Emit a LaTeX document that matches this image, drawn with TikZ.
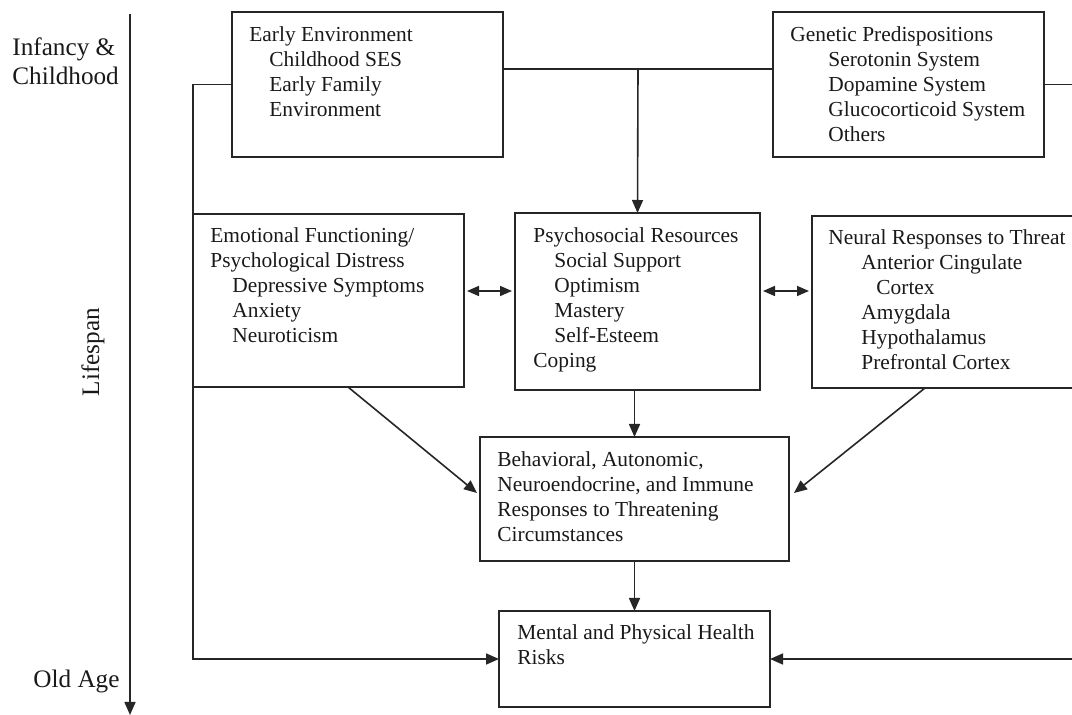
\documentclass[tikz,border=0pt]{standalone}
\usepackage{fontspec}
\setmainfont{Liberation Serif}
\usetikzlibrary{arrows.meta,calc}
\newcommand{\ind}[1]{\hspace*{#1}}
\begin{document}
\begin{tikzpicture}[x=0.5pt,y=-0.5pt,
  box/.style={draw=black!85, line width=0.95pt, inner sep=0pt, outer sep=0pt, anchor=north west},
  txt/.style={inner sep=0pt, anchor=base west, font=\fontsize{10.7}{12.5}\selectfont, text=black!90},
  lab/.style={inner sep=0pt, font=\fontsize{12.6}{14.5}\selectfont, text=black!90},
  conn/.style={draw=black!85, line width=0.8pt},
  arr/.style={conn, -{Triangle[length=6.5pt,width=5.5pt]}},
  darr/.style={conn, {Triangle[length=6pt,width=5pt]}-{Triangle[length=6pt,width=5pt]}}]
\useasboundingbox (0,0) rectangle (1072,715);
\clip (0,0) rectangle (1072,715);

% boxes
\node[box, minimum width=135.5pt, minimum height=72.5pt] (ee) at (232,12) {};
\node[box, minimum width=135.5pt, minimum height=72.5pt] (gen) at (773,12) {};
\node[box, minimum width=135.5pt, minimum height=86.5pt] (emo) at (193,214) {};
\node[box, minimum width=122.5pt, minimum height=88.5pt] (psy) at (515,213) {};
\node[box, minimum width=140pt, minimum height=86pt] (neu) at (812,216) {};
\node[box, minimum width=154.5pt, minimum height=62pt] (beh) at (480,437) {};
\node[box, minimum width=135.5pt, minimum height=48pt] (men) at (499,611) {};

% texts
\node[txt] (eet) at (249,42) {\parbox[t]{140pt}{Early Environment\\\ind{10pt}Childhood SES\\\ind{10pt}Early Family\\\ind{10pt}Environment}};
\node[txt] (gent) at (790,42) {\parbox[t]{140pt}{Genetic Predispositions\\\ind{19pt}Serotonin System\\\ind{19pt}Dopamine System\\\ind{19pt}Glucocorticoid System\\\ind{19pt}Others}};
\node[txt] (emot) at (210,243) {\parbox[t]{140pt}{Emotional Functioning/\\Psychological Distress\\\ind{11pt}Depressive Symptoms\\\ind{11pt}Anxiety\\\ind{11pt}Neuroticism}};
\node[txt] (psyt) at (533,243) {\parbox[t]{140pt}{Psychosocial Resources\\\ind{10.5pt}Social Support\\\ind{10.5pt}Optimism\\\ind{10.5pt}Mastery\\\ind{10.5pt}Self-Esteem\\Coping}};
\node[txt] (neut) at (828,245) {\parbox[t]{140pt}{Neural Responses to Threat\\\ind{16.5pt}Anterior Cingulate\\\ind{24pt}Cortex\\\ind{16.5pt}Amygdala\\\ind{16.5pt}Hypothalamus\\\ind{16.5pt}Prefrontal Cortex}};
\node[txt] (beht) at (497,467) {\parbox[t]{160pt}{Behavioral, Autonomic,\\Neuroendocrine, and Immune\\Responses to Threatening\\Circumstances}};
\node[txt] (ment) at (517,640) {\parbox[t]{140pt}{Mental and Physical Health\\Risks}};

% side labels
\node[lab, anchor=base west] (inf) at (12,56) {\parbox[t]{80pt}{Infancy \&\\Childhood}};
\node[lab, rotate=90, anchor=base] (ls) at (99,352) {Lifespan};
\node[lab, anchor=base west] (old) at (33,688) {Old Age};

% axis
\coordinate (atop) at (130,14);
\coordinate (abot) at (130,715);
\draw[arr] (atop) -- (abot);

% top connectors
\coordinate (jn) at (638,69);
\draw[conn] (ee.east |- jn) -- (gen.west |- jn);
\draw[arr] (jn) -- (psy.north);

% left loop
\draw[arr] (ee.west) -| (emo.north west) -- (emo.south west) |- (men.west);
% right loop
\coordinate (rr) at (1090,0);
\draw[arr] (gen.east) -| (rr |- men.east) -- (men.east);

% double arrows
\coordinate (dy) at (0,291);
\draw[darr, shorten <=1.5pt, shorten >=1.5pt] (emo.east |- dy) -- (psy.west |- dy);
\draw[darr, shorten <=1.5pt, shorten >=1.5pt] (psy.east |- dy) -- (neu.west |- dy);

% into behavioral box
\coordinate (e1) at (348,0);
\coordinate (n1) at (925,0);
\draw[arr] (emo.south -| e1) -- ($(beh.west)+(-3,-6)$);
\draw[arr] (neu.south -| n1) -- ($(beh.east)+(5,-6)$);
\draw[arr] (psy.south -| beh.north) -- (beh.north);
\draw[arr] (beh.south) -- (men.north);
\end{tikzpicture}
\end{document}
